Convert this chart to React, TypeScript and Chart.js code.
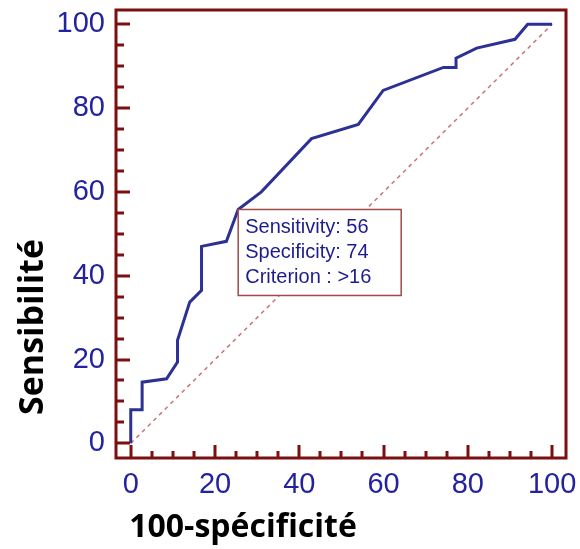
import React, { useEffect, useRef } from "react";
import { Chart, registerables } from "chart.js";

Chart.register(...registerables);

// ROC curve points: x = 100 - specificity, y = sensitivity
const rocX = [0, 0, 2.7, 2.7, 8.5, 11.1, 11.1, 14, 16.8, 16.8, 22.7, 25.5, 31, 42.9, 54, 59.9, 74.2, 77.2, 77.2, 82.1, 91.2, 94.2, 100];
const rocY = [0, 8, 8, 14.6, 15.4, 19.4, 24.6, 33.7, 36.5, 47, 48.2, 55.8, 60, 72.7, 76.1, 84.2, 89.7, 89.7, 91.9, 94.3, 96.4, 100, 100];
const diagX = [0, 100];
const diagY = [0, 100];
const majorTicks = [0, 20, 40, 60, 80, 100];
const minorTicks = [5, 10, 15, 25, 30, 35, 45, 50, 55, 65, 70, 75, 85, 90, 95];
const criterionPoint = { x: 25.5, y: 55.8 };
const annotationLines = ["Sensitivity: 56", "Specificity: 74", "Criterion : >16"];
const xTitle = "100-spécificité";
const yTitle = "Sensibilité";

const MAROON = "#7c0f0f";
const LABEL_BLUE = "#2323a0";
const LINE_BLUE = "#2e3194";

const framePlugin = {
  id: "framePlugin",
  afterDatasetsDraw(chart: any) {
    const ctx = chart.ctx;
    const { left, right, top, bottom } = chart.chartArea;
    const xs = chart.scales.x;
    const ys = chart.scales.y;
    ctx.save();
    ctx.strokeStyle = MAROON;
    ctx.lineWidth = 3;
    ctx.lineCap = "butt";
    ctx.strokeRect(left, top, right - left, bottom - top);
    const drawX = (v: number, len: number) => {
      const px = Math.round(xs.getPixelForValue(v));
      ctx.beginPath();
      ctx.moveTo(px, bottom);
      ctx.lineTo(px, bottom - len);
      ctx.stroke();
    };
    const drawY = (v: number, len: number) => {
      const py = Math.round(ys.getPixelForValue(v));
      ctx.beginPath();
      ctx.moveTo(left, py);
      ctx.lineTo(left + len, py);
      ctx.stroke();
    };
    majorTicks.forEach((v) => { drawX(v, 13); drawY(v, 14); });
    minorTicks.forEach((v) => { drawX(v, 7); drawY(v, 8); });

    // annotation box
    const bx = xs.getPixelForValue(criterionPoint.x);
    const by = ys.getPixelForValue(criterionPoint.y);
    ctx.fillStyle = "#ffffff";
    ctx.fillRect(bx, by, 163, 86);
    ctx.strokeStyle = "#a04a4a";
    ctx.lineWidth = 1.5;
    ctx.strokeRect(bx, by, 163, 86);
    ctx.fillStyle = "#1c1c8c";
    ctx.font = '20px "Liberation Sans", Arial, sans-serif';
    ctx.textAlign = "left";
    ctx.textBaseline = "alphabetic";
    annotationLines.forEach((t, i) => {
      ctx.fillText(t, bx + 7, by + 24 + i * 25);
    });

    // axis titles
    ctx.fillStyle = "#000000";
    ctx.font = 'bold 32px "Open Sans", sans-serif';
    ctx.textAlign = "center";
    ctx.fillText(xTitle, 243, 537);
    ctx.translate(43, 327);
    ctx.rotate(-Math.PI / 2);
    ctx.font = 'bold 34px "Open Sans", sans-serif';
    ctx.fillText(yTitle, 0, 0);
    ctx.restore();
  },
};

const zeroPadding = (s: any) => {
  s.paddingTop = 0;
  s.paddingBottom = 0;
  s.paddingLeft = 0;
  s.paddingRight = 0;
};

export default function App() {
  const ref = useRef<HTMLCanvasElement | null>(null);
  useEffect(() => {
    if (!ref.current) return;
    const chart = new Chart(ref.current, {
      type: "line",
      data: {
        datasets: [
          {
            data: rocX.map((x, i) => ({ x, y: rocY[i] })),
            borderColor: LINE_BLUE,
            borderWidth: 3,
            pointRadius: 0,
            tension: 0,
            fill: false,
            order: 1,
          },
          {
            data: diagX.map((x, i) => ({ x, y: diagY[i] })),
            borderColor: "#c97474",
            borderWidth: 1.5,
            borderDash: [4, 4],
            pointRadius: 0,
            tension: 0,
            fill: false,
            order: 2,
          },
        ],
      },
      options: {
        responsive: false,
        animation: false,
        devicePixelRatio: 1,
        layout: { padding: { left: 0, top: 10, right: 14, bottom: 0 } },
        plugins: { legend: { display: false }, tooltip: { enabled: false } },
        scales: {
          x: {
            type: "linear",
            min: -3.5,
            max: 103.3,
            grid: { display: false, drawTicks: false, tickLength: 0 },
            border: { display: false },
            afterBuildTicks: (s: any) => { s.ticks = majorTicks.map((v) => ({ value: v })); },
            afterFit: (s: any) => { s.height = 91; zeroPadding(s); },
            ticks: {
              color: LABEL_BLUE,
              font: { family: '"Liberation Sans", Arial, sans-serif', size: 29 },
              padding: 10,
              maxRotation: 0,
              autoSkip: false,
            },
          },
          y: {
            type: "linear",
            min: -3.5,
            max: 103.4,
            grid: { display: false, drawTicks: false, tickLength: 0 },
            border: { display: false },
            afterBuildTicks: (s: any) => { s.ticks = majorTicks.map((v) => ({ value: v })); },
            afterFit: (s: any) => { s.width = 116; zeroPadding(s); },
            ticks: {
              color: LABEL_BLUE,
              font: { family: '"Liberation Sans", Arial, sans-serif', size: 29 },
              padding: 11,
              autoSkip: false,
            },
          },
        },
      },
      plugins: [framePlugin],
    } as any);
    return () => chart.destroy();
  }, []);
  return (
    <div style={{ position: "fixed", left: 0, top: 0, width: 580, height: 549, background: "#fff" }}>
      <canvas ref={ref} width={580} height={549} />
    </div>
  );
}
